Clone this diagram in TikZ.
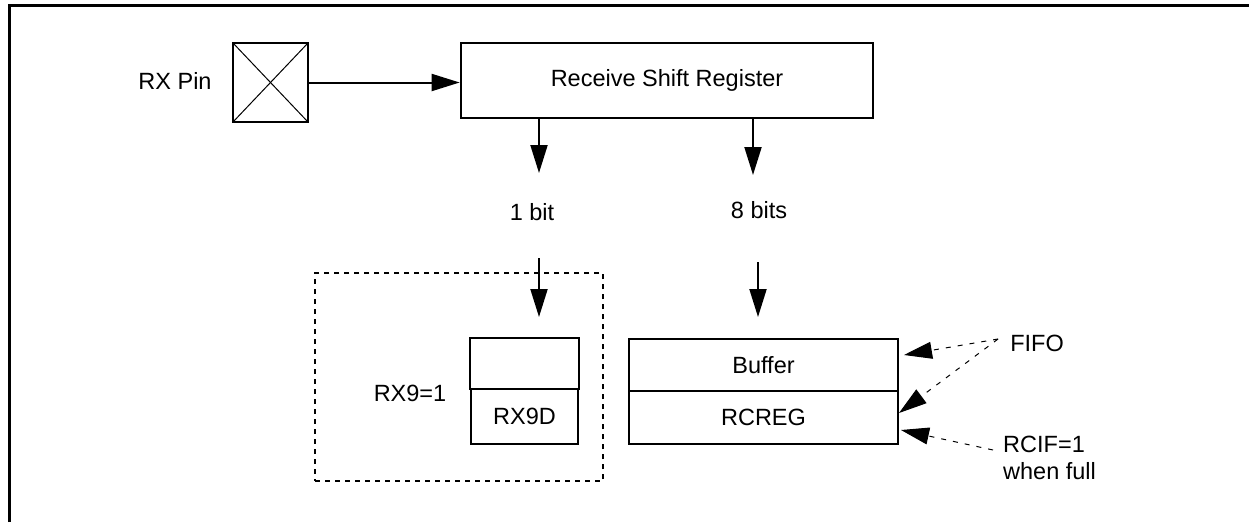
\documentclass[tikz,border=0pt]{standalone}
\usepackage{fontspec}
\setmainfont{Liberation Sans}
\usetikzlibrary{arrows.meta}
\begin{document}
\begin{tikzpicture}[x=1pt,y=-1pt,
  font=\fontsize{23.5}{27}\selectfont,
  every node/.style={inner sep=0pt},
  box/.style={draw,line width=2.7pt,inner sep=0pt,outer sep=0pt},
  frame/.style={line width=3pt},
  thinline/.style={line width=1pt},
  arr/.style={line width=2pt,-{Triangle[length=28pt,width=17pt]}},
  darr/.style={line width=1pt,dash pattern=on 5pt off 7pt,-{Triangle[length=28pt,width=17pt]}},
  grp/.style={draw,line width=2.2pt,dash pattern=on 5pt off 5pt,inner sep=0pt}
]
\useasboundingbox (0,0) rectangle (1249,522);
\draw[frame] (9,522) -- (9,5) -- (1249,5);

% RX pin
\node (rxpin) at (175,81) {RX Pin};
\node[box,minimum width=75pt,minimum height=79pt] (pin) at (270.5,82.5) {};
\draw[thinline] (pin.north west) -- (pin.south east) (pin.north east) -- (pin.south west);

% Receive shift register
\node[box,minimum width=412pt,minimum height=75pt] (rsr) at (667,80.5) {Receive Shift Register};
\draw[arr] ([xshift=1.35pt]pin.east) -- ([xshift=-1.35pt]pin.east -| rsr.west);

% labels
\node (onebit) at (532,212) {1 bit};
\node (eightbits) at (759,210) {8 bits};

\coordinate (a1) at (539,173);
\coordinate (a2) at (753,175);
\draw[arr] ([yshift=-1.35pt]rsr.south -| a1) -- (a1);
\draw[arr] ([yshift=-1.35pt]rsr.south -| a2) -- (a2);

% dashed group
\node[grp,minimum width=288pt,minimum height=208pt] (grp) at (459,377) {};
\node[box,minimum width=109pt,minimum height=51pt] (rxu) at (524.5,363.5) {};
\node[box,minimum width=107pt,minimum height=55pt,anchor=north] (rx9d) at (rxu.south) {RX9D};
\node (rx9) at (410,393) {RX9=1};

% buffer / rcreg
\node[box,minimum width=269pt,minimum height=52pt] (buf) at (763.5,365) {Buffer};
\node[box,minimum width=269pt,minimum height=53pt,anchor=north] (rcreg) at (buf.south) {RCREG};

\coordinate (b1s) at (539,258);
\coordinate (b1e) at (539,317);
\coordinate (b2s) at (758,262);
\coordinate (b2e) at (758,317);
\draw[arr] (b1s) -- (b1e);
\draw[arr] (b2s) -- (b2e);

% FIFO and RCIF
\node (fifo) at (1037,343) {FIFO};
\node[align=left,anchor=west] (rcif) at (1003,458) {RCIF=1\\when full};

\draw[darr] ([xshift=-12pt,yshift=4pt]fifo.west) -- ([xshift=6pt,yshift=10pt]buf.east);
\draw[darr] ([xshift=-12pt,yshift=4pt]fifo.west) -- ([xshift=1pt,yshift=4.5pt]rcreg.east);
\draw[darr] ([xshift=-10pt,yshift=8pt]rcif.west) -- ([xshift=3pt,yshift=-12.5pt]rcreg.east);
\end{tikzpicture}
\end{document}
